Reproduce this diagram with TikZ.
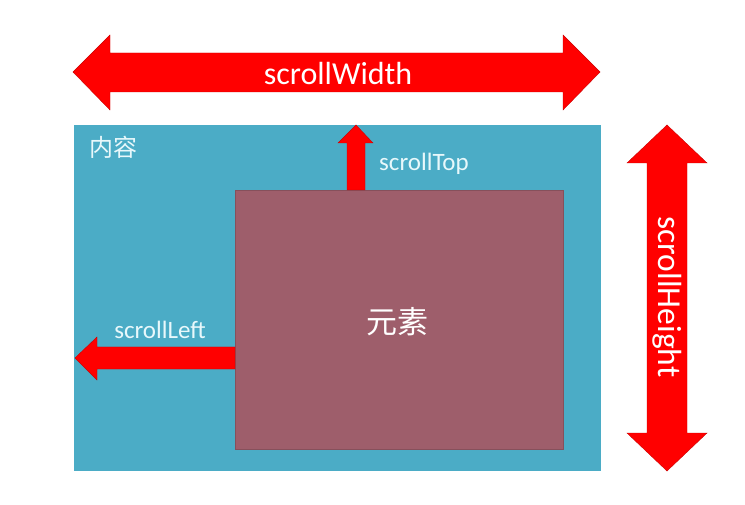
\documentclass[tikz,border=0pt]{standalone}
\usepackage{fontspec}
\setmainfont{Carlito}
\newfontfamily\cjk{Noto Sans CJK SC}
\definecolor{bgblue}{HTML}{4BACC6}
\definecolor{elem}{HTML}{9E5E6B}
\definecolor{arrred}{HTML}{FF0000}
\definecolor{lbl}{HTML}{E8F8FB}
\tikzset{
  arrowshape/.style={fill=arrred, draw=red!80!black, line width=0.4pt, line join=miter},
  lab/.style={text=lbl, inner sep=0pt, font=\fontsize{25}{28}\selectfont},
  biglab/.style={text=white, inner sep=0pt, font=\fontsize{32}{36}\selectfont},
}
\begin{document}
\begin{tikzpicture}[x=1pt,y=-1pt]
\useasboundingbox[fill=white] (0,0) rectangle (745,505);
% content area
\path[fill=bgblue] (74,125) rectangle (601,471);
\node[anchor=center, text=lbl, inner sep=0pt, font=\cjk\fontsize{24}{28}\selectfont] (content) at (113,147) {内容};
% element
\path[fill=elem, draw=elem!85!black, line width=0.4pt] (235,190) rectangle (563,449);
\node[text=white, inner sep=0pt, font=\cjk\fontsize{31}{36}\selectfont] (element) at (397,322) {元素};
% scrollWidth double arrow
\path[arrowshape] (73,72) -- (110,35) -- (110,53) -- (563,53) -- (563,35) -- (600,72)
  -- (563,110) -- (563,92) -- (110,92) -- (110,110) -- cycle;
\node[biglab] (sw) at (338,74) {scrollWidth};
% scrollHeight double arrow
\path[arrowshape] (667,125) -- (707,163) -- (687,163) -- (687,433) -- (707,433) -- (667,471)
  -- (627,433) -- (647,433) -- (647,163) -- (627,163) -- cycle;
\node[biglab, rotate=-90, font=\fontsize{33.5}{38}\selectfont] (sh) at (667,297) {scrollHeight};
% scrollTop arrow
\path[arrowshape] (356,125) -- (373,143) -- (365,143) -- (365,190) -- (347,190) -- (347,143) -- (338,143) -- cycle;
\node[lab, anchor=west] (st) at (379,164) {scrollTop};
% scrollLeft arrow
\path[arrowshape] (75,358) -- (97,337) -- (97,347) -- (235,347) -- (235,369) -- (97,369) -- (97,380) -- cycle;
\node[lab] (sl) at (160,330) {scrollLeft};
\end{tikzpicture}
\end{document}
